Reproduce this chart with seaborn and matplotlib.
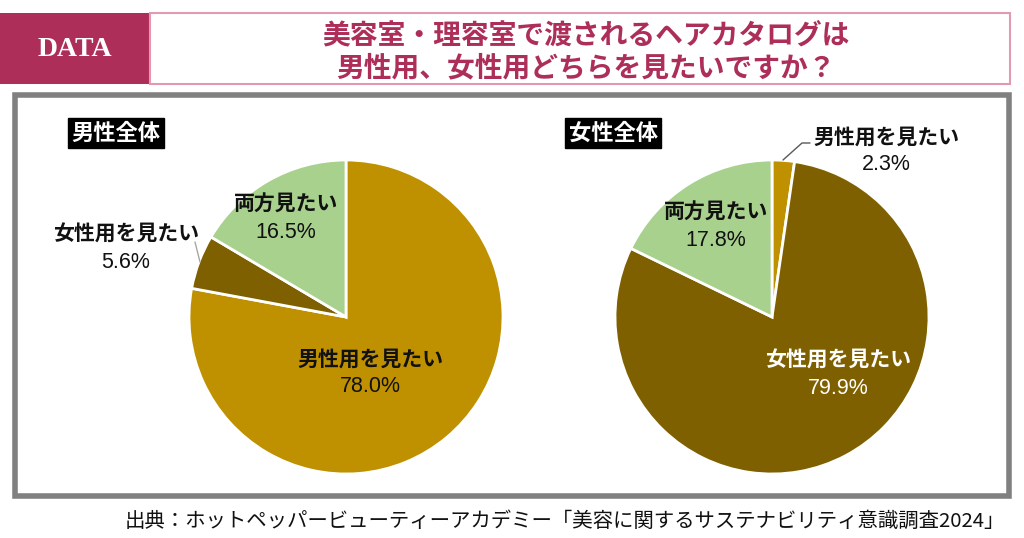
import matplotlib
matplotlib.use('Agg')
import matplotlib.pyplot as plt
import matplotlib.patches as patches
import seaborn as sns

# data
categories = ['男性用を見たい', '女性用を見たい', '両方見たい']
male_values = [78.0, 5.6, 16.5]
female_values = [2.3, 79.9, 17.8]
panel_titles = ['男性全体', '女性全体']
title_lines = ['美容室・理容室で渡されるヘアカタログは', '男性用、女性用どちらを見たいですか？']
source_text = '出典：ホットペッパービューティーアカデミー「美容に関するサステナビリティ意識調査2024」'

sns.set_theme(style='white')
plt.rcParams['font.family'] = ['Noto Sans CJK JP', 'DejaVu Sans']

colors = sns.color_palette(['#BF9000', '#7F6000', '#A9D18E'])
magenta = '#AE2E5A'
W, H = 1024, 538

fig = plt.figure(figsize=(W / 100, H / 100), dpi=100)
fig.patch.set_facecolor('white')


def pixel_axes():
    a = fig.add_axes([0, 0, 1, 1])
    a.set_xlim(0, W)
    a.set_ylim(H, 0)
    a.axis('off')
    return a


# background layer: header boxes and grey frame
back = pixel_axes()
back.add_patch(patches.Rectangle((0, 13), 149, 71, facecolor=magenta, edgecolor='none'))
back.text(75, 49, 'DATA', color='white', fontsize=20, family='Liberation Serif',
          fontweight='bold', ha='center', va='center')
back.add_patch(patches.Rectangle((150, 13), 860, 71, facecolor='white',
                                 edgecolor='#E29AB4', linewidth=1.5))
back.text(586, 35, title_lines[0], color=magenta, fontsize=20, fontweight='bold',
          ha='center', va='center')
back.text(586, 68, title_lines[1], color=magenta, fontsize=20, fontweight='bold',
          ha='center', va='center')
back.add_patch(patches.Rectangle((14.5, 94.5), 994, 401, facecolor='white',
                                 edgecolor='#808080', linewidth=4))
back.text(1005, 521, source_text, fontsize=14.7, ha='right', va='center', color='#111111')


def draw_pie(cx, cy, r, values):
    ax = fig.add_axes([(cx - r) / W, (H - cy - r) / H, 2 * r / W, 2 * r / H])
    ax.pie(values, colors=colors, startangle=90, counterclock=False,
           wedgeprops=dict(edgecolor='white', linewidth=2))
    ax.set_xlim(-1, 1)
    ax.set_ylim(-1, 1)
    ax.axis('off')
    return ax


draw_pie(346, 317, 157, male_values)
draw_pie(772, 317, 157, female_values)

# top layer: tags, labels, leader lines
top = pixel_axes()

for x, t in zip([66, 563], panel_titles):
    top.text(x + 50, 133, t, color='white', fontsize=16, fontweight='bold', ha='center',
             va='center', bbox=dict(boxstyle='square,pad=0.15', facecolor='black',
                                    edgecolor='black'))


def label(x, y, name, value, color='#111111', gap=28):
    top.text(x, y, name, fontsize=15, fontweight='bold', ha='center', va='center',
             color=color)
    top.text(x, y + gap, f'{value:.1f}%', fontsize=15.5, family=['Liberation Sans', 'DejaVu Sans'],
             ha='center', va='center', color=color)


label(370, 359, categories[0], male_values[0])
label(126, 234, categories[1], male_values[1])
label(286, 204, categories[2], male_values[2])

label(886, 137, categories[0], female_values[0])
label(838, 360, categories[1], female_values[1], color='white', gap=29)
label(716, 212, categories[2], female_values[2])

top.plot([195, 200], [242, 262], color='#A6A6A6', linewidth=1)
top.plot([783, 802, 810], [160, 143, 143], color='#595959', linewidth=1)

fig.savefig('out.png', dpi=100)
